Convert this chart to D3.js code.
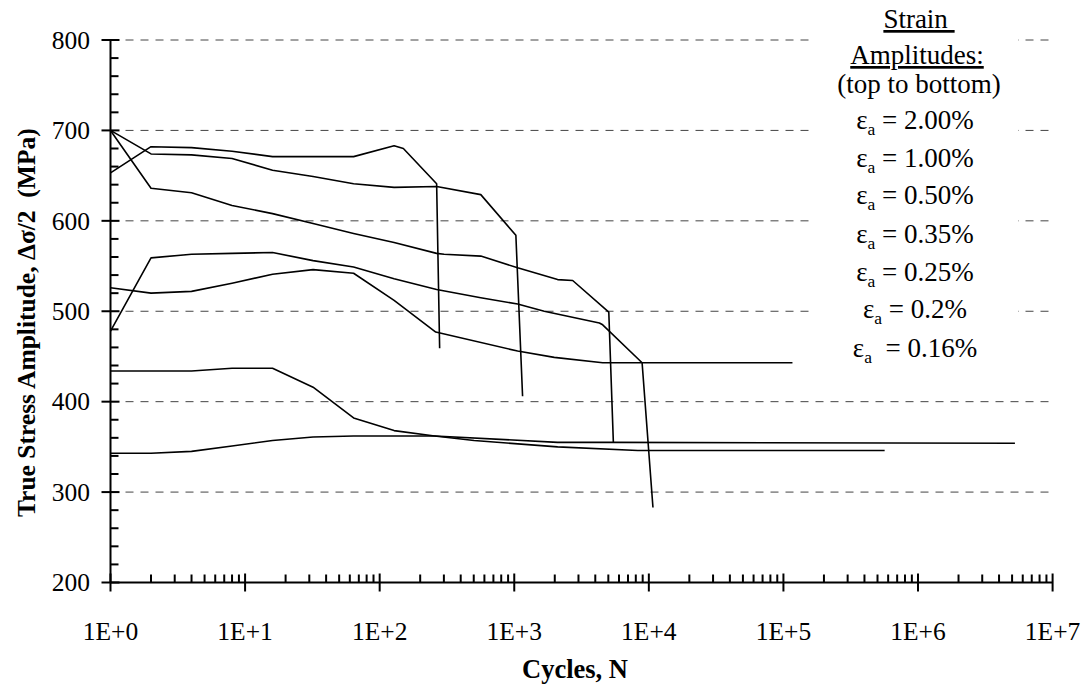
<!DOCTYPE html>
<html>
<head>
<meta charset="utf-8">
<script src="https://cdn.jsdelivr.net/npm/d3@7/dist/d3.min.js"></script>
<style>
  body { margin: 0; background: #fff; }
  text { font-family: "Liberation Serif", "Times New Roman", serif; fill: #000; }
</style>
</head>
<body>
<svg id="chart" width="1090" height="688"></svg>
<script>
// Axis ticks and labels
const yMajorTicks = [200, 300, 400, 500, 600, 700, 800];
const yGridValues = [300, 400, 500, 600, 700, 800];
const xMajorTicks = [1, 1e1, 1e2, 1e3, 1e4, 1e5, 1e6, 1e7];
const xTickLabels = ["1E+0", "1E+1", "1E+2", "1E+3", "1E+4", "1E+5", "1E+6", "1E+7"];

// Legend entries, top to bottom
const strainLabels = ["2.00%", "1.00%", "0.50%", "0.35%", "0.25%", "0.2%", "0.16%"];

// Cycles and true stress amplitude (MPa) per strain amplitude
const cycles200 = [1, 2, 4, 8, 16, 32, 64, 128, 150, 265, 279];
const stress200 = [653, 682, 681, 677, 671, 671, 671, 683, 680, 641, 459];

const cycles100 = [1, 2, 4, 8, 16, 32, 64, 128, 265, 564, 1028, 1153];
const stress100 = [700, 674, 673, 669, 656, 649, 641, 637, 638, 629, 584, 406];

const cycles050 = [1, 2, 4, 8, 16, 32, 64, 128, 265, 301, 564, 1059, 2100, 2717, 5040, 5450];
const stress050 = [700, 636, 631, 617, 608, 597, 586, 576, 564, 563, 561, 548, 535, 534, 499, 355];

const cycles035 = [1, 2, 4, 8, 16, 32, 64, 128, 265, 564, 1059, 1670, 4290, 4540, 8910, 10730];
const stress035 = [478, 559, 563, 564, 565, 556, 549, 536, 524, 515, 508, 500, 487, 485, 443, 283];

const cycles025 = [1, 2, 4, 8, 16, 32, 64, 128, 261, 1059, 1983, 4540, 116700];
const stress025 = [526, 520, 522, 531, 541, 546, 542, 512, 477, 456, 449, 443, 443];

const cycles020 = [1, 2, 4, 8, 16, 32, 64, 128, 256, 503, 2100, 8280, 565000];
const stress020 = [434, 434, 434, 437, 437, 416, 382, 368, 362, 357, 350, 346, 346];

const cycles016 = [1, 2, 4, 8, 16, 32, 64, 128, 256, 2100, 5450, 5250000];
const stress016 = [343, 343, 345, 351, 357, 361, 362, 362, 362, 355, 355, 354];

const series = [
  { cycles: cycles200, stress: stress200 },
  { cycles: cycles100, stress: stress100 },
  { cycles: cycles050, stress: stress050 },
  { cycles: cycles035, stress: stress035 },
  { cycles: cycles025, stress: stress025 },
  { cycles: cycles020, stress: stress020 },
  { cycles: cycles016, stress: stress016 }
].map(s => s.cycles.map((n, i) => ({ n: n, s: s.stress[i] })));

const svg = d3.select("#chart");

const x = d3.scaleLog().domain([1, 1e7]).range([110.5, 1052.6]);
const y = d3.scaleLinear().domain([200, 800]).range([582.5, 40]);

// Dashed horizontal gridlines
svg.append("g")
  .selectAll("line")
  .data(yGridValues)
  .join("line")
  .attr("x1", x(1)).attr("x2", x(1e7))
  .attr("y1", d => y(d)).attr("y2", d => y(d))
  .attr("stroke", "#444")
  .attr("stroke-width", 1)
  .attr("stroke-dasharray", "8,7");

// Legend panel (white box hides gridlines behind the text)
svg.append("rect")
  .attr("x", 812).attr("y", 0)
  .attr("width", 206).attr("height", 372)
  .attr("fill", "#fff");

const legend = svg.append("g").attr("font-size", 27).attr("text-anchor", "middle");
legend.append("text")
  .attr("x", 919).attr("y", 28)
  .style("white-space", "pre")
  .style("text-decoration", "underline")
  .text("Strain ");
legend.append("text")
  .attr("x", 917).attr("y", 64)
  .style("text-decoration", "underline")
  .text("Amplitudes:");
legend.append("text")
  .attr("x", 919).attr("y", 93)
  .text("(top to bottom)");

const legendBaselines = [129, 166.5, 204, 242.5, 280.5, 318, 356.5];
strainLabels.forEach((lab, i) => {
  const t = legend.append("text")
    .attr("x", 915).attr("y", legendBaselines[i])
    .style("white-space", "pre");
  t.append("tspan").text("ε");
  t.append("tspan").attr("font-size", 17.5).attr("dy", 6).text("a");
  t.append("tspan").attr("dy", -6).text((i === strainLabels.length - 1 ? "  = " : " = ") + lab);
});

// Data curves
const line = d3.line().x(d => x(d.n)).y(d => y(d.s));
svg.append("g")
  .selectAll("path")
  .data(series)
  .join("path")
  .attr("d", line)
  .attr("fill", "none")
  .attr("stroke", "#000")
  .attr("stroke-width", 1.6)
  .attr("stroke-linejoin", "round");

// Axes
const axes = svg.append("g").attr("stroke", "#000").attr("stroke-width", 2);
axes.append("line")
  .attr("x1", x(1)).attr("x2", x(1))
  .attr("y1", y(800)).attr("y2", y(200));
axes.append("line")
  .attr("x1", x(1)).attr("x2", x(1e7))
  .attr("y1", y(200)).attr("y2", y(200));

// Y ticks: majors cross the axis, minors every 20 MPa point inward
axes.append("g").selectAll("line")
  .data(yMajorTicks)
  .join("line")
  .attr("x1", x(1) - 9).attr("x2", x(1) + 9)
  .attr("y1", d => y(d)).attr("y2", d => y(d));
const yMinor = d3.range(220, 800, 20).filter(v => v % 100 !== 0);
axes.append("g").selectAll("line")
  .data(yMinor)
  .join("line")
  .attr("x1", x(1)).attr("x2", x(1) + 8)
  .attr("y1", d => y(d)).attr("y2", d => y(d));

// X ticks: decades cross the axis, 2..9 multiples point inward
axes.append("g").selectAll("line")
  .data(xMajorTicks)
  .join("line")
  .attr("x1", d => x(d)).attr("x2", d => x(d))
  .attr("y1", y(200) - 9).attr("y2", y(200) + 9);
const xMinor = [];
for (let k = 0; k < 7; k++) for (let m = 2; m <= 9; m++) xMinor.push(m * Math.pow(10, k));
axes.append("g").selectAll("line")
  .data(xMinor)
  .join("line")
  .attr("x1", d => x(d)).attr("x2", d => x(d))
  .attr("y1", y(200) - 8).attr("y2", y(200));

// Tick labels
svg.append("g").attr("font-size", 25.5).attr("text-anchor", "end")
  .selectAll("text")
  .data(yMajorTicks)
  .join("text")
  .attr("x", 90)
  .attr("y", d => y(d))
  .attr("dy", "0.34em")
  .text(d => d);

svg.append("g").attr("font-size", 25.5).attr("text-anchor", "middle")
  .selectAll("text")
  .data(xMajorTicks)
  .join("text")
  .attr("x", d => x(d))
  .attr("y", 640)
  .text((d, i) => xTickLabels[i]);

// Axis titles
svg.append("text")
  .attr("x", 575).attr("y", 678)
  .attr("text-anchor", "middle")
  .attr("font-size", 26.5)
  .attr("font-weight", "bold")
  .text("Cycles, N");

svg.append("text")
  .attr("transform", "translate(35,517) rotate(-90)")
  .attr("text-anchor", "start")
  .attr("font-size", 25.5)
  .attr("font-weight", "bold")
  .style("white-space", "pre")
  .text("True Stress Amplitude, Δσ/2  (MPa)");
</script>
</body>
</html>
